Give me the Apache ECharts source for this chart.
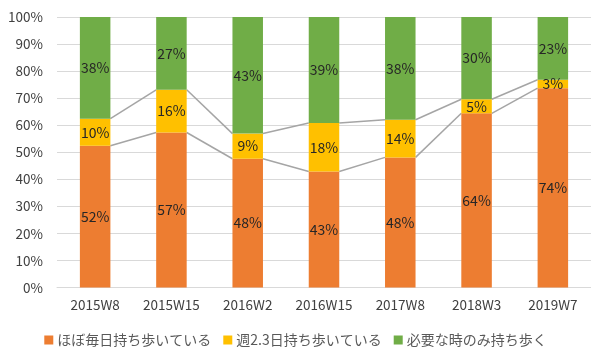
<!DOCTYPE html>
<html>
<head>
<meta charset="utf-8">
<script src="https://cdn.jsdelivr.net/npm/echarts@6/dist/echarts.min.js"></script>
<style>
  html, body { margin: 0; padding: 0; background: #fff; }
  #chart { width: 591px; height: 347px; }
</style>
</head>
<body>
<div id="chart"></div>
<script>
// Survey waves
const categories = ['2015W8', '2015W15', '2016W2', '2016W15', '2017W8', '2018W3', '2019W7'];
// Share of respondents (%) per answer
const dailyValues = [52.4, 57.3, 47.6, 42.9, 48.1, 64.4, 73.7];
const weeklyValues = [10.0, 15.8, 9.3, 17.9, 13.9, 5.2, 3.1];
const whenNeededValues = [37.6, 26.9, 43.1, 39.2, 38.0, 30.4, 23.2];
const seriesNames = ['ほぼ毎日持ち歩いている', '週2.3日持ち歩いている', '必要な時のみ持ち歩く'];
const yTicks = [0, 10, 20, 30, 40, 50, 60, 70, 80, 90, 100];

const FONT = '"Noto Sans CJK JP", "Noto Sans", sans-serif';
const BAR_RATIO = 0.4;

// Cumulative tops used by the connector lines between neighbouring bars
const dailyTops = dailyValues.slice();
const weeklyTops = dailyValues.map((v, i) => v + weeklyValues[i]);

function connectorData(tops) {
  const out = [];
  for (let i = 0; i < tops.length - 1; i++) out.push([i, tops[i], tops[i + 1]]);
  return out;
}

function connectorSeries(tops) {
  return {
    type: 'custom',
    silent: true,
    z: 1,
    data: connectorData(tops),
    encode: { x: 0, y: 1 },
    renderItem: function (params, api) {
      const i = api.value(0);
      const half = api.size([1, 0])[0] * BAR_RATIO / 2;
      const p0 = api.coord([i, api.value(1)]);
      const p1 = api.coord([i + 1, api.value(2)]);
      return {
        type: 'line',
        shape: { x1: p0[0] + half, y1: p0[1], x2: p1[0] - half, y2: p1[1] },
        style: { stroke: '#a5a5a5', lineWidth: 1.5 }
      };
    }
  };
}

const labelStyle = {
  show: true,
  position: 'inside',
  color: '#262626',
  fontSize: 14,
  fontFamily: FONT,
  formatter: p => Math.round(p.value) + '%'
};

function barSeries(name, values, color) {
  return {
    name: name,
    type: 'bar',
    stack: 'total',
    barWidth: (BAR_RATIO * 100) + '%',
    z: 2,
    itemStyle: { color: color },
    label: labelStyle,
    data: values
  };
}

const chart = echarts.init(document.getElementById('chart'), null, { renderer: 'canvas' });
chart.setOption({
  animation: false,
  backgroundColor: '#ffffff',
  textStyle: { fontFamily: FONT },
  grid: { left: 57, top: 17, width: 535.5, height: 270.5, containLabel: false },
  legend: {
    left: 'center',
    top: 333,
    padding: 0,
    itemWidth: 9,
    itemHeight: 9,
    itemGap: 12,
    icon: 'rect',
    textStyle: { color: '#595959', fontSize: 14, fontFamily: FONT, padding: [0, 0, 0, -1] },
    data: seriesNames
  },
  xAxis: {
    type: 'category',
    data: categories,
    axisLine: { lineStyle: { color: '#d9d9d9', width: 1 } },
    axisTick: { show: false },
    axisLabel: { color: '#404040', fontSize: 13.5, fontFamily: FONT, margin: 11 }
  },
  yAxis: {
    type: 'value',
    min: yTicks[0],
    max: yTicks[yTicks.length - 1],
    interval: 10,
    axisLine: { show: false },
    axisTick: { show: false },
    splitLine: { lineStyle: { color: '#d9d9d9', width: 1 } },
    axisLabel: { color: '#404040', fontSize: 13.5, fontFamily: FONT, margin: 14, formatter: v => v + '%' }
  },
  series: [
    barSeries(seriesNames[0], dailyValues, '#ed7d31'),
    barSeries(seriesNames[1], weeklyValues, '#ffc000'),
    barSeries(seriesNames[2], whenNeededValues, '#70ad47'),
    connectorSeries(dailyTops),
    connectorSeries(weeklyTops)
  ]
});
</script>
</body>
</html>
